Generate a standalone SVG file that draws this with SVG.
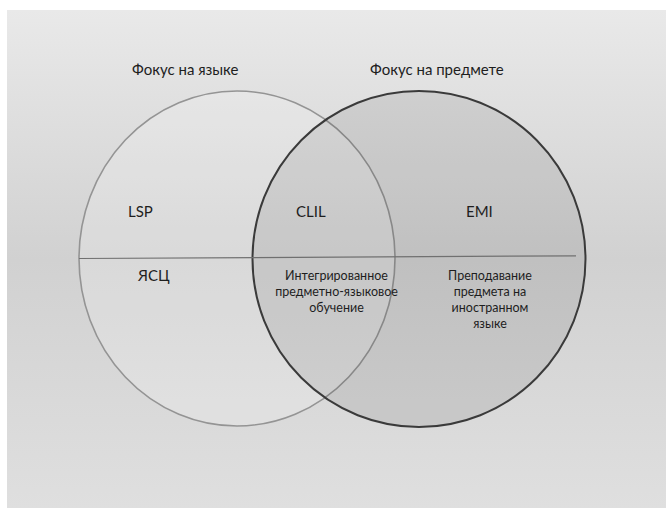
<svg xmlns="http://www.w3.org/2000/svg" width="666" height="508" viewBox="0 0 666 508">
  <defs>
    <linearGradient id="bg" x1="0" y1="0" x2="0" y2="1">
      <stop offset="0" stop-color="#e9e9e9"/>
      <stop offset="0.5" stop-color="#d1d1d1"/>
      <stop offset="1" stop-color="#dfdfdf"/>
    </linearGradient>
    <style>
      .t { font-family: "Lato", "Liberation Sans", sans-serif; fill: #1e1e1e; }
      .big { font-size: 15px; }
      .small { font-size: 12.5px; text-anchor: middle; }
    </style>
  </defs>
  <rect x="0" y="0" width="666" height="508" fill="#ffffff"/>
  <rect x="7" y="10" width="659" height="498" fill="url(#bg)"/>

  <g id="circle-language">
    <ellipse cx="237" cy="258.5" rx="158" ry="167.5" fill="#ffffff" fill-opacity="0.18" stroke="#949494" stroke-width="1.6"/>
  </g>
  <g id="circle-subject">
    <ellipse cx="419" cy="259" rx="166.5" ry="168" fill="#000000" fill-opacity="0.08" stroke="#3a3a3a" stroke-width="2"/>
  </g>

  <g id="connectors">
    <line x1="79" y1="258.5" x2="576" y2="255.8" stroke="#707070" stroke-width="1.2"/>
  </g>

  <g id="title-language"><text class="t big" x="132" y="75">Фокус на языке</text></g>
  <g id="title-subject"><text class="t big" x="370" y="75">Фокус на предмете</text></g>

  <g id="lsp"><text class="t big" x="128" y="217">LSP</text></g>
  <g id="clil"><text class="t big" x="296" y="217">CLIL</text></g>
  <g id="emi"><text class="t big" x="466" y="217">EMI</text></g>
  <g id="yasc"><text class="t big" x="138" y="281">ЯСЦ</text></g>

  <g id="clil-desc">
    <text class="t small" x="336.5" y="280">Интегрированное</text>
    <text class="t small" x="336.5" y="296">предметно-языковое</text>
    <text class="t small" x="336.5" y="312">обучение</text>
  </g>
  <g id="emi-desc">
    <text class="t small" x="490" y="280">Преподавание</text>
    <text class="t small" x="490" y="296">предмета на</text>
    <text class="t small" x="490" y="312">иностранном</text>
    <text class="t small" x="490" y="328">языке</text>
  </g>
</svg>
